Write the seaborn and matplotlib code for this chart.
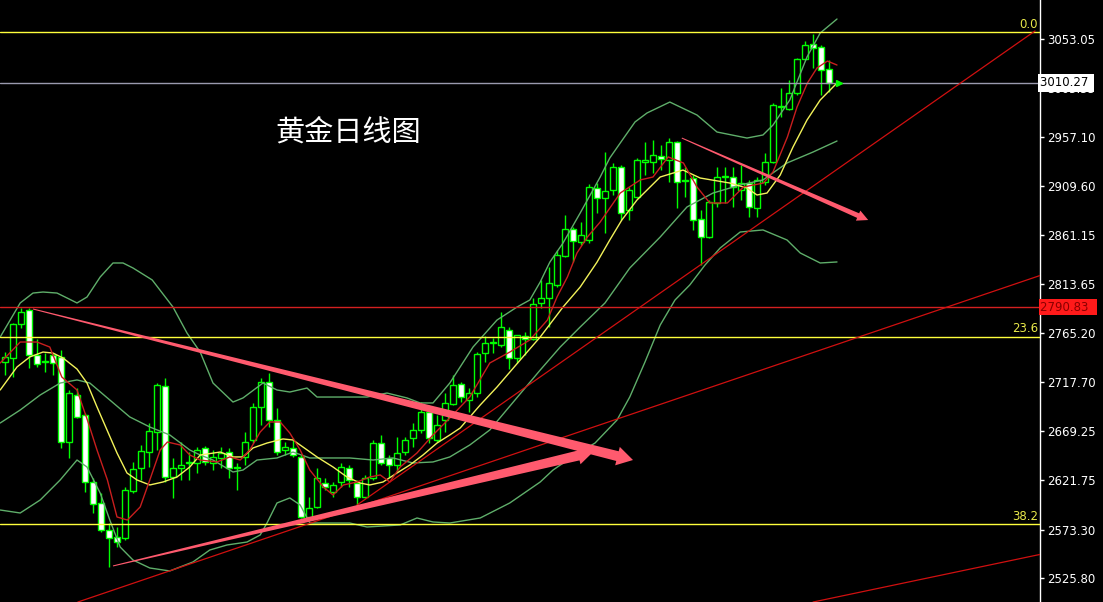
import numpy as np
import pandas as pd
import seaborn as sns
import matplotlib.pyplot as plt
from matplotlib.patches import Polygon

# daily gold candles (oldest first)
opens = [2737.2, 2741.1, 2774.3, 2788.0, 2744.0, 2737.2, 2744.0, 2742.1, 2658.9, 2704.9,
         2685.3, 2619.8, 2599.3, 2572.9, 2566.0, 2565.0, 2611.0, 2633.5, 2649.1, 2668.7,
         2713.7, 2624.7, 2633.5, 2638.4, 2638.4, 2653.1, 2638.4, 2643.3, 2649.1, 2633.5,
         2644.3, 2660.9, 2693.2, 2717.6, 2680.4, 2651.1, 2653.1, 2644.3, 2585.6, 2595.4,
         2618.8, 2610.0, 2619.8, 2633.5, 2618.8, 2605.1, 2623.7, 2657.9, 2643.3, 2636.4,
         2649.1, 2662.8, 2670.7, 2688.3, 2660.9, 2680.4, 2696.1, 2715.6, 2700.0, 2706.9,
         2745.9, 2755.7, 2753.8, 2768.5, 2741.1, 2762.6, 2759.7, 2794.9, 2799.8, 2812.5,
         2840.8, 2867.2, 2854.5, 2856.5, 2907.3, 2897.6, 2905.4, 2927.9, 2885.8, 2898.5,
         2932.8, 2932.8, 2938.6, 2934.7, 2952.3, 2915.2, 2917.1, 2877.0, 2859.4, 2892.7,
         2918.1, 2918.1, 2905.4, 2912.2, 2887.8, 2913.2, 2932.8, 2986.5, 2984.6, 3000.2,
         3033.5, 3048.2, 3045.2, 3023.7]
highs = [2746.9, 2775.3, 2790.0, 2790.0, 2760.0, 2745.9, 2746.0, 2748.9, 2709.8, 2711.7,
         2687.3, 2623.7, 2609.0, 2579.7, 2575.8, 2614.9, 2639.4, 2656.0, 2677.5, 2716.6,
         2721.5, 2643.3, 2658.9, 2649.1, 2654.0, 2655.0, 2651.1, 2654.0, 2653.1, 2638.4,
         2668.7, 2697.1, 2721.5, 2726.4, 2692.2, 2658.9, 2662.8, 2646.2, 2605.1, 2633.5,
         2623.7, 2619.8, 2638.4, 2636.4, 2621.8, 2626.7, 2660.9, 2665.8, 2646.2, 2663.8,
         2663.8, 2677.5, 2698.0, 2695.1, 2685.3, 2706.9, 2724.5, 2717.6, 2711.7, 2746.9,
         2762.6, 2760.6, 2786.1, 2771.4, 2763.6, 2766.5, 2799.8, 2817.4, 2830.1, 2846.7,
         2880.9, 2869.2, 2874.1, 2911.2, 2912.2, 2942.5, 2931.8, 2929.8, 2908.3, 2936.7,
         2952.3, 2954.3, 2949.4, 2956.2, 2953.3, 2927.9, 2920.1, 2885.8, 2895.6, 2927.9,
         2927.9, 2927.9, 2929.8, 2915.2, 2918.1, 2941.6, 2990.5, 3005.1, 3013.0, 3034.5,
         3051.1, 3057.9, 3047.2, 3032.5]
lows = [2724.5, 2722.5, 2770.4, 2731.3, 2732.3, 2727.4, 2724.5, 2653.1, 2643.3, 2682.4,
        2610.0, 2589.5, 2570.9, 2536.7, 2556.2, 2563.1, 2609.0, 2621.8, 2634.5, 2651.1,
        2619.8, 2604.2, 2621.8, 2621.8, 2628.6, 2636.4, 2631.5, 2633.5, 2623.7, 2612.0,
        2636.4, 2657.9, 2675.6, 2673.6, 2646.2, 2646.2, 2644.3, 2584.6, 2584.6, 2594.4,
        2612.0, 2605.1, 2614.9, 2614.9, 2597.3, 2604.2, 2621.8, 2636.4, 2624.7, 2629.6,
        2646.2, 2654.0, 2667.7, 2657.9, 2658.9, 2668.7, 2695.1, 2698.0, 2688.3, 2702.9,
        2737.2, 2745.9, 2751.8, 2730.3, 2736.2, 2744.0, 2758.7, 2790.0, 2771.4, 2810.5,
        2839.9, 2835.0, 2851.6, 2853.6, 2882.9, 2863.3, 2900.5, 2876.0, 2876.0, 2897.6,
        2920.0, 2922.0, 2924.9, 2913.2, 2887.8, 2898.5, 2866.3, 2832.0, 2858.4, 2888.8,
        2892.7, 2888.8, 2895.6, 2879.0, 2879.0, 2910.3, 2931.8, 2976.8, 2983.6, 2998.3,
        3032.5, 3024.7, 2998.3, 3001.2]
closes = [2742.1, 2774.3, 2786.1, 2744.0, 2735.2, 2737.8, 2736.2, 2658.9, 2706.9, 2683.4,
          2619.8, 2598.3, 2572.9, 2565.0, 2561.1, 2612.0, 2632.5, 2650.1, 2669.7, 2714.7,
          2624.7, 2633.5, 2636.4, 2639.4, 2651.1, 2639.4, 2644.3, 2648.2, 2633.5, 2634.5,
          2658.9, 2693.2, 2717.6, 2680.4, 2649.1, 2654.0, 2646.2, 2585.6, 2594.4, 2623.7,
          2614.9, 2616.9, 2634.5, 2621.8, 2605.1, 2623.7, 2657.9, 2638.4, 2636.4, 2648.2,
          2660.9, 2670.7, 2688.3, 2662.8, 2675.6, 2697.1, 2714.7, 2702.9, 2706.9, 2745.0,
          2755.7, 2756.7, 2771.4, 2741.1, 2763.6, 2759.7, 2793.9, 2799.8, 2814.4, 2841.8,
          2867.2, 2855.5, 2861.4, 2908.3, 2897.6, 2904.4, 2927.9, 2882.9, 2905.4, 2934.7,
          2934.7, 2939.6, 2935.7, 2952.3, 2913.2, 2914.5, 2876.0, 2859.4, 2893.6, 2918.1,
          2918.7, 2908.3, 2912.2, 2888.8, 2915.2, 2932.8, 2988.5, 2987.5, 3000.2, 3033.5,
          3047.2, 3044.3, 3022.7, 3010.27]

# fast MA (red), read at these bar positions
ma_fast_x = [-0.6, 1.9, 4.0, 5.6, 7.1, 9.0, 10.3, 11.5, 12.8, 14.0, 15.3, 16.9, 18.1, 19.4,
             20.3, 21.9, 23.1, 24.4, 26.5, 28.1, 29.4, 30.6, 31.9, 33.1, 34.4, 35.6, 36.9,
             38.1, 39.8, 41.0, 42.3, 44.0, 45.6, 46.9, 48.1, 49.4, 51.5, 53.5, 55.6, 58.1,
             60.6, 63.1, 65.6, 67.8, 69.0, 70.3, 71.5, 72.8, 74.4, 76.9, 79.4, 81.0, 82.9,
             84.8, 86.5, 88.1, 90.3, 92.3, 94.8, 96.0, 97.8, 99.0, 100.3, 101.5, 102.8, 104.0]
ma_fast_y = [2736.2, 2756.7, 2756.7, 2751.8, 2722.5, 2709.8, 2680.4, 2651.1, 2621.8, 2585.6,
             2582.6, 2595.4, 2621.8, 2651.1, 2658.9, 2656.0, 2646.2, 2641.3, 2639.4, 2644.3,
             2641.3, 2651.1, 2668.7, 2678.5, 2678.5, 2667.7, 2651.1, 2631.5, 2614.9, 2607.1,
             2616.9, 2619.8, 2624.7, 2626.7, 2619.8, 2634.5, 2648.2, 2665.8, 2682.4, 2703.0,
             2736.2, 2746.9, 2758.7, 2778.2, 2800.7, 2820.3, 2843.8, 2859.4, 2874.1, 2902.4,
             2915.2, 2918.1, 2937.7, 2931.8, 2908.3, 2892.7, 2892.7, 2908.3, 2912.2, 2923.0,
             2957.2, 2986.5, 3010.0, 3024.7, 3031.5, 3027.6]

# slow MA (yellow)
ma_slow_x = [-0.6, 1.5, 3.1, 4.75, 6.0, 7.25, 9.0, 10.25, 11.5, 12.75, 14.0, 15.25, 16.5,
             18.1, 19.75, 21.5, 23.1, 24.4, 26.9, 28.5, 29.75, 31.0, 32.75, 34.75, 36.0,
             37.25, 39.0, 41.0, 42.75, 44.4, 45.6, 47.25, 49.0, 50.6, 52.25, 54.0, 55.6,
             56.9, 59.4, 61.5, 64.4, 66.9, 69.75, 71.9, 74.0, 75.6, 77.1, 79.0, 81.9, 84.75,
             86.9, 90.6, 92.75, 94.0, 95.25, 96.9, 98.5, 100.25, 101.9, 104.0]
ma_slow_y = [2709.8, 2732.3, 2742.1, 2746.9, 2745.9, 2741.1, 2730.3, 2716.6, 2693.2, 2670.7,
             2648.2, 2628.6, 2621.8, 2616.9, 2619.8, 2624.7, 2634.5, 2646.2, 2649.1, 2644.3,
             2644.3, 2653.1, 2657.9, 2661.9, 2660.9, 2654.0, 2644.3, 2634.5, 2624.7, 2618.8,
             2616.9, 2619.8, 2628.6, 2636.4, 2646.2, 2657.9, 2665.8, 2672.6, 2695.1, 2712.7,
             2739.1, 2761.6, 2790.9, 2810.5, 2834.8, 2856.5, 2876.0, 2895.6, 2918.1, 2924.9,
             2917.1, 2912.2, 2907.3, 2900.5, 2902.4, 2920.0, 2947.4, 2973.8, 2993.4, 3010.0]

# Bollinger bands (green)
bb_up_x = [-0.6, 1.9, 3.5, 4.75, 6.5, 7.75, 9.0, 10.25, 11.9, 13.5, 14.75, 16.0, 18.4, 21.0,
           22.75, 24.4, 26.0, 28.5, 29.75, 32.25, 34.0, 35.6, 37.75, 39.0, 41.0, 45.25, 47.75,
           50.25, 51.9, 53.5, 55.6, 58.5, 61.5, 64.0, 65.6, 66.9, 68.1, 69.75, 71.9, 74.4,
           75.6, 76.9, 78.75, 80.25, 83.1, 86.5, 89.0, 92.75, 94.75, 96.0, 98.1, 100.25,
           101.9, 104.0]
bb_up_y = [2761.6, 2794.9, 2804.6, 2805.6, 2804.6, 2799.8, 2794.9, 2800.7, 2820.3, 2834.0,
           2834.0, 2829.1, 2817.4, 2790.9, 2765.5, 2746.9, 2716.6, 2698.0, 2702.0, 2716.6,
           2709.8, 2707.8, 2711.7, 2702.9, 2702.9, 2702.9, 2706.8, 2702.0, 2697.1, 2697.1,
           2716.6, 2751.8, 2778.2, 2790.9, 2797.8, 2815.4, 2834.8, 2853.5, 2882.9, 2918.1,
           2936.7, 2951.3, 2971.9, 2980.7, 2991.4, 2978.7, 2962.1, 2956.2, 2959.2, 2968.9,
           2993.4, 3035.5, 3058.9, 3072.6]
bb_mid_x = [-0.6, 1.9, 4.4, 6.9, 9.0, 10.6, 13.1, 15.6, 18.1, 20.6, 23.1, 24.4, 26.0, 28.5,
            29.75, 31.5, 34.0, 36.0, 38.1, 41.0, 43.1, 46.0, 48.5, 51.0, 53.5, 55.6, 58.1,
            60.6, 63.75, 66.9, 69.4, 71.9, 75.0, 78.1, 81.9, 85.25, 88.5, 91.9, 94.75, 97.75,
            101.0, 104.0]
bb_mid_y = [2677.5, 2690.2, 2704.9, 2716.6, 2719.6, 2716.6, 2700.0, 2683.4, 2673.6, 2665.8,
            2651.1, 2646.2, 2641.3, 2629.6, 2631.5, 2641.3, 2643.3, 2649.1, 2643.3, 2643.3,
            2643.3, 2641.3, 2643.3, 2638.4, 2639.4, 2644.3, 2656.0, 2670.7, 2700.0, 2729.3,
            2751.8, 2771.4, 2794.9, 2829.1, 2859.4, 2888.8, 2902.4, 2910.3, 2915.2, 2931.8,
            2942.5, 2953.3]
bb_low_x = [-0.6, 1.9, 4.4, 6.9, 9.0, 10.25, 11.9, 13.1, 14.4, 16.0, 18.1, 20.6, 23.5, 25.6,
            27.75, 30.25, 31.9, 32.75, 34.0, 35.6, 36.9, 38.1, 43.1, 45.25, 49.4, 51.5, 53.5,
            55.6, 59.4, 63.1, 66.9, 68.5, 71.25, 73.75, 76.5, 78.1, 80.0, 81.9, 83.75, 85.6,
            87.5, 89.4, 91.9, 94.75, 97.75, 99.4, 101.9, 104.0]
bb_low_y = [2592.4, 2589.5, 2602.2, 2621.8, 2641.3, 2634.5, 2609.0, 2582.6, 2556.2, 2543.5,
            2535.7, 2532.8, 2541.6, 2553.3, 2558.2, 2561.1, 2568.0, 2579.7, 2599.3, 2604.2,
            2597.3, 2579.7, 2579.7, 2575.8, 2577.8, 2584.6, 2580.7, 2579.7, 2584.6, 2599.3,
            2619.8, 2631.5, 2646.2, 2657.9, 2680.4, 2703.0, 2737.2, 2773.3, 2797.8, 2812.5,
            2832.0, 2848.7, 2864.3, 2866.3, 2856.5, 2843.8, 2834.0, 2835.0]

# horizontal levels
fib_levels = [3059.5, 2762.0, 2578.5]
fib_labels = ["0.0", "23.6", "38.2"]
last_price = 3010.27
resist_price = 2790.83
price_ticks = [3053.05, 3005.55, 2957.10, 2909.60, 2861.15, 2813.65, 2765.20,
               2717.70, 2669.25, 2621.75, 2573.30, 2525.80]

# trend lines: (bar, price) pairs
trend_lines = [((44.0, 2597.3), (128.75, 3060.9)),
               ((9.1, 2502.4), (129.4, 2821.8)),
               ((101.0, 2502.4), (129.4, 2549.0))]
# thick arrows: start, tip, end width, head width, head length (px)
arrows = [((3.5, 2789.0), (78.5, 2641.3), 10, 19, 16),
          ((13.5, 2537.7), (73.5, 2649.1), 10, 18, 15),
          ((84.6, 2956.2), (107.9, 2876.0), 5, 11, 11)]

LIME = "#00FF00"
sns.set_style("dark", {"axes.facecolor": "black", "figure.facecolor": "black"})
plt.rcParams['font.family'] = ['DejaVu Sans', 'Noto Sans CJK SC']

fig = plt.figure(figsize=(11.03, 6.02), dpi=100)
ax = fig.add_axes([0, 0, 1040 / 1103, 1])
ax.set_facecolor("black")
ax.set_xlim(-0.625, 129.375)
ax.set_ylim(2502.44, 3091.2)

df = pd.DataFrame({"o": opens, "h": highs, "l": lows, "c": closes})
df["i"] = np.arange(len(df))
up = df["c"] >= df["o"]

ax.vlines(df["i"], df["l"], df["h"], color=LIME, lw=1, zorder=3)
ax.bar(df["i"], (df["c"] - df["o"]).abs(), bottom=df[["o", "c"]].min(axis=1),
       width=0.7, color=np.where(up, "black", "white"), edgecolor=LIME,
       linewidth=1, zorder=4)

for xs, ys, col in [(bb_up_x, bb_up_y, "#5FAE6A"), (bb_mid_x, bb_mid_y, "#5FAE6A"),
                    (bb_low_x, bb_low_y, "#5FAE6A"), (ma_slow_x, ma_slow_y, "#F2F25A"),
                    (ma_fast_x, ma_fast_y, "#C81E1E")]:
    sns.lineplot(x=xs, y=ys, ax=ax, color=col, lw=1, estimator=None, sort=False, zorder=5)

# horizontal lines
for lv, lab in zip(fib_levels, fib_labels):
    ax.axhline(lv, color="#FFFF3C", lw=1, zorder=6)
    ax.text(129.1, lv + 1.5, lab, color="#E8E84A", fontsize=8.5, ha="right", va="bottom", zorder=7)
ax.axhline(last_price, color="#9A9AAE", lw=1, zorder=6)
ax.axhline(resist_price, color="#D42020", lw=1, zorder=6)

for p0, p1 in trend_lines:
    ax.plot([p0[0], p1[0]], [p0[1], p1[1]], color="#D01010", lw=0.9, zorder=6)


def taper_arrow(p0, p1, w1, hw, hl, color="#FF5A6E"):
    a = ax.transData.transform(p0)
    b = ax.transData.transform(p1)
    u = (b - a) / np.hypot(*(b - a))
    n = np.array([-u[1], u[0]])
    base = b - u * hl
    pts = [a + n * 0.5, base + n * w1 / 2, base + n * hw / 2, b,
           base - n * hw / 2, base - n * w1 / 2, a - n * 0.5]
    pts = ax.transData.inverted().transform(np.array(pts))
    ax.add_patch(Polygon(pts, closed=True, facecolor=color, edgecolor="none", zorder=8))


for p0, p1, w1, hw, hl in arrows:
    taper_arrow(p0, p1, w1, hw, hl)

# small last-price marker
ax.plot([104.2], [last_price], marker=">", color=LIME, ms=4, zorder=7)

# right price scale
for s in ["top", "left", "bottom"]:
    ax.spines[s].set_visible(False)
ax.spines["right"].set_color("white")
ax.spines["right"].set_linewidth(1)
ax.set_xticks([])
ax.yaxis.tick_right()
ax.set_yticks(price_ticks)
ax.set_yticklabels([f"{t:.2f}" for t in price_ticks])
ax.tick_params(axis="y", colors="white", labelcolor="white", labelsize=8.5,
               length=3, width=1, direction="out", pad=2)
ax.set_xlabel("")
ax.set_ylabel("")
ax.grid(False)

ax.text(1.0, last_price, f"{last_price:.2f} ", transform=ax.get_yaxis_transform(),
        color="black", fontsize=8.5, ha="left", va="center", zorder=10, clip_on=False,
        bbox=dict(boxstyle="square,pad=0.2", facecolor="white", edgecolor="none"))
ax.text(1.0, resist_price, f"{resist_price:.2f}  ", transform=ax.get_yaxis_transform(),
        color="#8A0000", fontsize=8.5, ha="left", va="center", zorder=10, clip_on=False,
        bbox=dict(boxstyle="square,pad=0.12", facecolor="#FF1A1A", edgecolor="none"))

fig.text(275 / 1103, 1 - 133 / 602, "黄金日线图", color="white", fontsize=21,
         family=["Noto Sans CJK SC"], fontweight="light", va="center", ha="left")

fig.savefig("out.png", dpi=100, facecolor="black")
